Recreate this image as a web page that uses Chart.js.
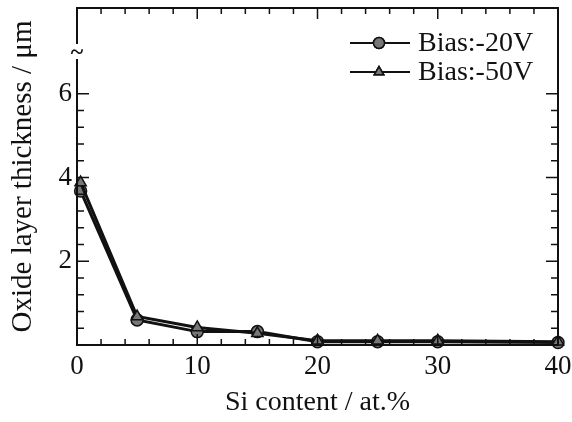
<!DOCTYPE html>
<html>
<head>
<meta charset="utf-8">
<script src="https://cdn.jsdelivr.net/npm/chart.js@4.4.1/dist/chart.umd.min.js"></script>
<style>
    body { margin: 0; background: #fff; }
    canvas { display: block; }
</style>
</head>
<body>
<canvas id="oxide-chart" width="572" height="422"></canvas>
<script>
// values
const siContent = [0.3, 5, 10, 15, 20, 25, 30, 40];
const bias20 = [3.68, 0.6, 0.32, 0.32, 0.08, 0.08, 0.08, 0.06];
const bias50 = [3.88, 0.68, 0.42, 0.28, 0.1, 0.1, 0.1, 0.08];
const seriesNames = ['Bias:-20V', 'Bias:-50V'];
const xTicks = [0, 10, 20, 30, 40];
const yTicks = [2, 4, 6];

const fontName = '"Liberation Serif", "Times New Roman", serif';
const ink = '#111';

function toPoints(xs, ys) {
    let pts = [];
    for (let i = 0; i < xs.length; i++) {
        pts.push({ x: xs[i], y: ys[i] });
    }
    return pts;
}

// frame, inward ticks, axis break and legend
const framePlugin = {
    id: 'frame',
    afterDraw(chart) {
        const ctx = chart.ctx;
        const a = chart.chartArea;
        const xs = chart.scales.x;
        const ys = chart.scales.y;
        const breakTop = 43;
        const breakBottom = 60;

        ctx.save();
        ctx.strokeStyle = ink;
        ctx.lineWidth = 2;
        ctx.lineCap = 'square';

        ctx.beginPath();
        // top, right, bottom
        ctx.moveTo(a.left, a.top);
        ctx.lineTo(a.right, a.top);
        ctx.lineTo(a.right, a.bottom);
        ctx.lineTo(a.left, a.bottom);
        // left with a gap
        ctx.lineTo(a.left, breakBottom);
        ctx.moveTo(a.left, breakTop);
        ctx.lineTo(a.left, a.top);
        ctx.stroke();

        ctx.lineWidth = 1.5;
        ctx.lineCap = 'butt';
        ctx.beginPath();
        for (let i = 0; i <= 20; i++) {
            let v = i * 2;
            let px = xs.getPixelForValue(v);
            let len = (v % 10 === 0) ? 11 : 6;
            ctx.moveTo(px, a.bottom);
            ctx.lineTo(px, a.bottom - len);
            ctx.moveTo(px, a.top);
            ctx.lineTo(px, a.top + len);
        }
        for (let i = 0; i <= 15; i++) {
            let v = i * 0.4;
            let py = ys.getPixelForValue(v);
            let len = (i % 5 === 0) ? 12 : 7;
            ctx.moveTo(a.left, py);
            ctx.lineTo(a.left + len, py);
            ctx.moveTo(a.right, py);
            ctx.lineTo(a.right - len, py);
        }
        ctx.stroke();

        // break mark
        ctx.fillStyle = ink;
        ctx.font = 'bold 24px ' + fontName;
        ctx.textAlign = 'center';
        ctx.textBaseline = 'middle';
        ctx.fillText('~', a.left, (breakTop + breakBottom) / 2 + 1);

        // legend
        const rows = [43, 72];
        const styles = ['circle', 'triangle'];
        ctx.font = '28px ' + fontName;
        ctx.textAlign = 'left';
        for (let i = 0; i < rows.length; i++) {
            ctx.strokeStyle = ink;
            ctx.lineWidth = 2;
            ctx.beginPath();
            ctx.moveTo(350, rows[i]);
            ctx.lineTo(410, rows[i]);
            ctx.stroke();
            ctx.fillStyle = '#777';
            ctx.lineWidth = 1.5;
            Chart.helpers.drawPoint(ctx, { pointStyle: styles[i], radius: 5.5, borderWidth: 1.5 }, 379, rows[i]);
            ctx.fill();
            ctx.stroke();
            ctx.fillStyle = ink;
            ctx.fillText(seriesNames[i], 418, rows[i] + 1);
        }
        ctx.restore();
    }
};

const ctx = document.querySelector('#oxide-chart').getContext('2d');

new Chart(ctx, {
    type: 'line',
    data: {
        datasets: [{
            label: seriesNames[1],
            data: toPoints(siContent, bias50),
            borderColor: ink,
            borderWidth: 3,
            pointStyle: 'triangle',
            pointRadius: 6.5,
            pointBackgroundColor: '#777',
            pointBorderColor: ink,
            pointBorderWidth: 1.5,
            clip: false
        }, {
            label: seriesNames[0],
            data: toPoints(siContent, bias20),
            borderColor: ink,
            borderWidth: 3,
            pointStyle: 'circle',
            pointRadius: 6,
            pointBackgroundColor: '#777',
            pointBorderColor: ink,
            pointBorderWidth: 1.5,
            clip: false
        }]
    },
    options: {
        responsive: false,
        animation: false,
        layout: {
            padding: { top: 8, right: 14, left: 0, bottom: 0 }
        },
        plugins: {
            legend: { display: false },
            tooltip: { enabled: false }
        },
        scales: {
            x: {
                type: 'linear',
                min: 0,
                max: 40,
                afterBuildTicks: (scale) => {
                    scale.ticks = xTicks.map(v => ({ value: v }));
                },
                afterFit: (scale) => {
                    scale.height = 77;
                    scale.paddingLeft = 0;
                    scale.paddingRight = 0;
                },
                grid: { display: false, drawTicks: false },
                border: { display: false },
                ticks: {
                    color: ink,
                    padding: 6,
                    font: { family: fontName, size: 27 }
                },
                title: {
                    display: true,
                    text: 'Si content / at.%',
                    color: ink,
                    padding: { top: 0, bottom: 3 },
                    font: { family: fontName, size: 28 }
                }
            },
            y: {
                min: 0,
                max: 8.05,
                afterBuildTicks: (scale) => {
                    scale.ticks = yTicks.map(v => ({ value: v }));
                },
                afterFit: (scale) => {
                    scale.width = 77;
                    scale.paddingTop = 0;
                    scale.paddingBottom = 0;
                },
                grid: { display: false, drawTicks: false },
                border: { display: false },
                ticks: {
                    color: ink,
                    padding: 5,
                    font: { family: fontName, size: 27 }
                },
                title: {
                    display: true,
                    text: 'Oxide layer thickness / μm',
                    color: ink,
                    padding: { top: 6, bottom: 0 },
                    font: { family: fontName, size: 29 }
                }
            }
        }
    },
    plugins: [framePlugin]
});
</script>
</body>
</html>
